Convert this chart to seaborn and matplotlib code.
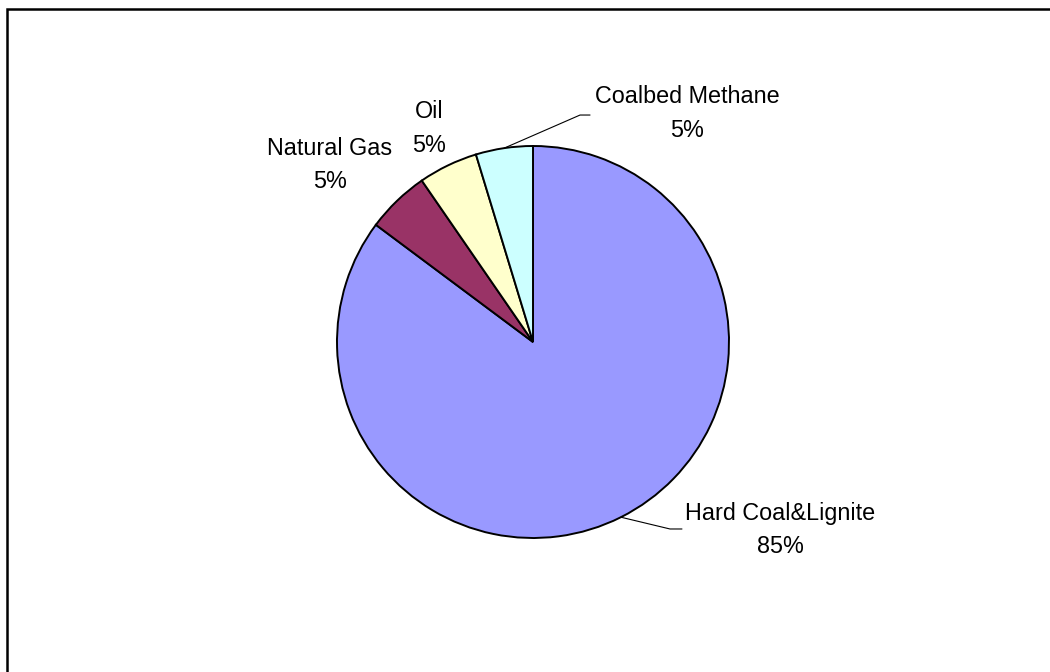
import numpy as np
import matplotlib
matplotlib.use("Agg")
import matplotlib.pyplot as plt
from matplotlib.patches import Rectangle
import seaborn as sns

# Fuel shares (percent)
categories = ["Hard Coal&Lignite", "Natural Gas", "Oil", "Coalbed Methane"]
shares = [85.2, 5.2, 4.9, 4.7]
pct_labels = ["85%", "5%", "5%", "5%"]
colors = ["#9999FF", "#993366", "#FFFFCC", "#CCFFFF"]

sns.set_theme(style="white")
plt.rcParams["font.family"] = ["Liberation Sans", "DejaVu Sans"]

W, H = 1050, 672
cx, cy, R = 533, 342, 196  # pie centre and radius in pixels

fig = plt.figure(figsize=(W / 100, H / 100), dpi=100)
ax = fig.add_axes([0, 0, 1, 1])

wedges, _ = ax.pie(
    shares, colors=colors, startangle=90, counterclock=False, radius=1.0,
    wedgeprops=dict(edgecolor="black", linewidth=1.4),
)

ax.set_xlim(-cx / R, (W - cx) / R)
ax.set_ylim(-(H - cy) / R, cy / R)
ax.set_aspect("equal")
ax.axis("off")

# label anchor positions (data units) and leader-line bends
label_pos = {
    "Hard Coal&Lignite": (1.260, -0.959),
    "Natural Gas": (-1.036, 0.903),
    "Oil": (-0.531, 1.089),
    "Coalbed Methane": (0.786, 1.166),
}
leaders = {
    "Hard Coal&Lignite": [(0.699, -0.954), (0.760, -0.954)],
    "Coalbed Methane": [(0.240, 1.158), (0.291, 1.158)],
}

for w, name, pct in zip(wedges, categories, pct_labels):
    x, y = label_pos[name]
    ax.text(x, y, f"{name}\n{pct}", ha="center", va="center",
            fontsize=16.8, color="black", linespacing=1.57)
    if name in leaders:
        mid = np.deg2rad((w.theta1 + w.theta2) / 2)
        pts = [(np.cos(mid), np.sin(mid))] + leaders[name]
        xs, ys = zip(*pts)
        ax.plot(xs, ys, color="black", linewidth=0.8)

# chart-area frame (top and left edges visible)
fig.patches.append(Rectangle((7 / W, -0.2), 1.5, 1.2 - 8.5 / H,
                             transform=fig.transFigure, fill=False,
                             edgecolor="black", linewidth=1.8))

fig.savefig("out.png", dpi=100, facecolor="white")
